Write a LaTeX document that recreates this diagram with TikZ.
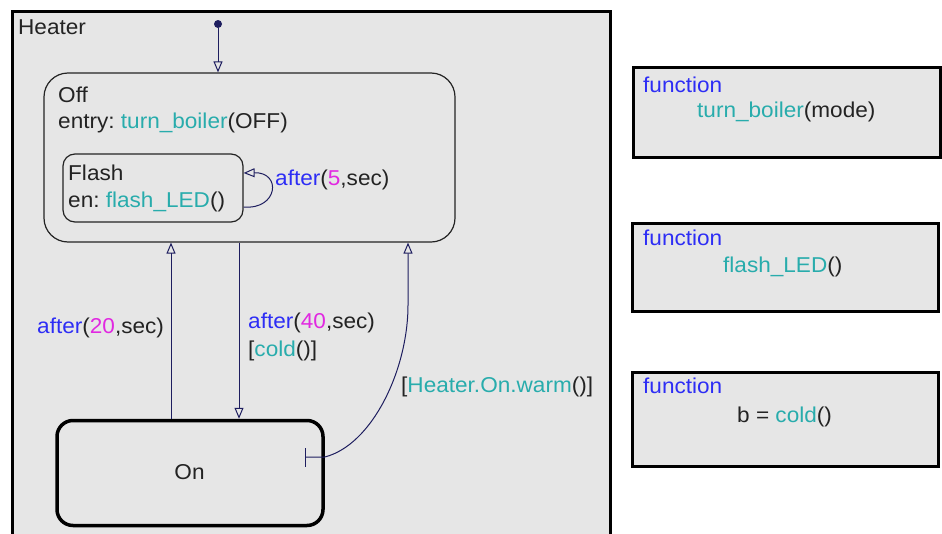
\documentclass[tikz,border=0pt]{standalone}
\usepackage{fontspec}
\setmainfont{Liberation Sans}[FakeStretch=1.05]
\usetikzlibrary{arrows.meta}
\definecolor{bg}{RGB}{230,230,230}
\definecolor{kwblue}{RGB}{45,45,245}
\definecolor{nummag}{RGB}{225,40,225}
\definecolor{fnteal}{RGB}{40,172,172}
\definecolor{navy}{RGB}{30,30,95}
\definecolor{txt}{RGB}{35,35,35}
\frenchspacing
\begin{document}
\begin{tikzpicture}[x=1pt,y=-1pt,
  font=\fontsize{21.5}{25}\selectfont,
  statebox/.style={draw=txt, line width=1.2pt, fill=bg, inner sep=0pt},
  fnbox/.style={draw=black, line width=3pt, fill=bg, inner sep=0pt, anchor=north west},
  lbl/.style={anchor=base west, inner sep=0pt, text=txt},
  tr/.style={draw=navy, line width=1pt, -{Triangle[open, length=11pt, width=9pt]}}
]
\useasboundingbox (0,0) rectangle (942,533);
\clip (0,0) rectangle (942,533);
\fill[white] (0,0) rectangle (942,533);

% Heater chart
\node[draw=black, line width=3pt, fill=bg, inner sep=0pt, anchor=north west,
      minimum width=598pt, minimum height=560pt] (heater) at (11,9.5) {};
\node[lbl] (heaterlbl) at (18,34) {Heater};

% states
\node[statebox, rounded corners=24pt, minimum width=411pt, minimum height=169pt] (off) at (249.5,157.5) {};
\node[lbl] (offlbl) at (58,102) {Off};
\node[lbl] (offentry) at (58,128) {entry: \textcolor{fnteal}{turn\_boiler}(OFF)};

\node[statebox, rounded corners=12pt, minimum width=180pt, minimum height=68pt] (flash) at (153,188) {};
\node[lbl] (flashlbl) at (68,180) {Flash};
\node[lbl] (flashen) at (68,207) {en: \textcolor{fnteal}{flash\_LED}()};

\node[draw=black, line width=3.5pt, fill=bg, inner sep=0pt, rounded corners=16pt,
      minimum width=266pt, minimum height=105pt] (on) at (190,473) {};
\node[anchor=base, inner sep=0pt, text=txt] (onlbl) at (189.5,479) {On};

% helper coordinates
\coordinate (xa) at (171,0);
\coordinate (xb) at (239,0);
\coordinate (xc) at (408,0);
\coordinate (wsrc) at (305,457);
\coordinate (wbend) at (408,305);

% default transition
\node[circle, fill=navy, inner sep=0pt, minimum size=8pt] (init) at (218,24) {};
\draw[tr] (init) -- (off.north -| init);

% self loop on Flash
\draw[tr] ([yshift=-19pt]flash.east) .. controls (278,210) and (282,172) .. ([yshift=15pt]flash.east);
\node[lbl] (t5) at (275,185) {\textcolor{kwblue}{after}(\textcolor{nummag}{5},sec)};

% On -> Off after 20
\draw[tr] (on.north -| xa) -- (off.south -| xa);
\node[lbl] (t20) at (37,333) {\textcolor{kwblue}{after}(\textcolor{nummag}{20},sec)};

% Off -> On after 40 [cold()]
\draw[tr] (off.south -| xb) -- (on.north -| xb);
\node[lbl] (t40) at (248,328) {\textcolor{kwblue}{after}(\textcolor{nummag}{40},sec)};
\node[lbl] (tcold) at (248,356) {[\textcolor{fnteal}{cold}()]};

% On -> Off [Heater.On.warm()]
\draw[draw=navy, line width=1pt, {Bar[width=19pt]}-{Triangle[open, length=11pt, width=9pt]}]
  (wsrc) -- (on.east |- wsrc) .. controls (372,445) and (408,370) .. (wbend) -- (off.south -| xc);
\node[lbl] (twarm) at (401,392) {[\textcolor{fnteal}{Heater.On.warm}()]};

% graphical functions
\node[fnbox, minimum width=307.5pt, minimum height=90pt] (f1) at (631.5,65.5) {};
\node[lbl, text=kwblue] (f1k) at (643,92) {function};
\node[lbl] (f1s) at (697,117) {\textcolor{fnteal}{turn\_boiler}(mode)};

\node[fnbox, minimum width=306pt, minimum height=88pt] (f2) at (630.5,221.5) {};
\node[lbl, text=kwblue] (f2k) at (643,245) {function};
\node[lbl] (f2s) at (723,272) {\textcolor{fnteal}{flash\_LED}()};

\node[fnbox, minimum width=306pt, minimum height=94pt] (f3) at (630.5,370.5) {};
\node[lbl, text=kwblue] (f3k) at (643,393) {function};
\node[lbl] (f3s) at (737,422) {b = \textcolor{fnteal}{cold}()};
\end{tikzpicture}
\end{document}
